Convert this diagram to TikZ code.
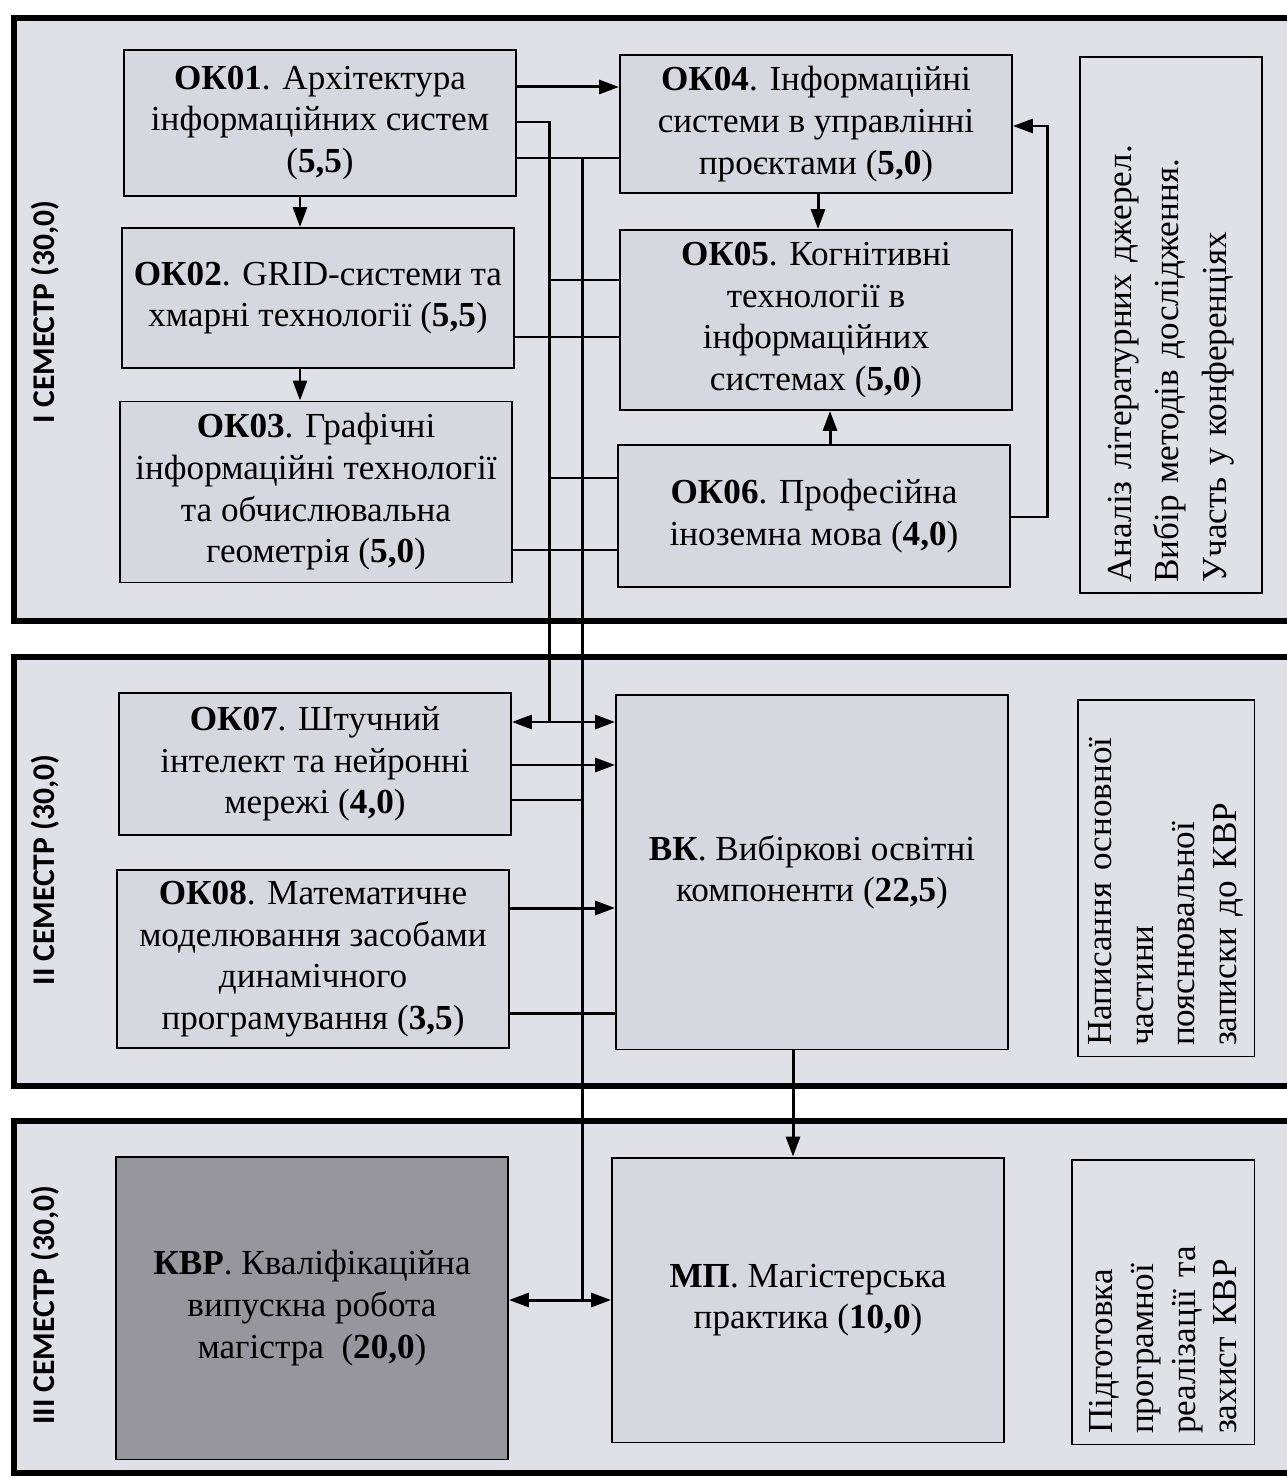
\documentclass[tikz,border=0pt]{standalone}
\usepackage{fontspec}
\setmainfont{Liberation Serif}
\newfontfamily\semfont{Carlito}
\usetikzlibrary{arrows.meta}
\definecolor{panelgray}{RGB}{224,225,231}
\definecolor{boxgray}{RGB}{214,216,223}
\definecolor{kvrgray}{RGB}{150,150,156}

\begin{document}
\begin{tikzpicture}[x=0.02cm, y=-0.02cm,
    panel/.style={line width=3pt, fill=panelgray},
    course/.style={draw, line width=1.1pt, fill=boxgray, align=center, inner ysep=1pt,
      minimum width=7.84cm, font=\fontsize{20}{23.7}\selectfont},
    note/.style={draw, line width=1.1pt, fill=panelgray, rotate=90, align=left,
      inner xsep=0.2cm, font=\fontsize{20}{23.7}\selectfont},
    semlabel/.style={rotate=90, font=\semfont\bfseries\fontsize{18}{20}\selectfont},
    link/.style={line width=1.7pt},
    arr/.style={link, -{Triangle[length=4mm,width=2.8mm]}},
    dbl/.style={link, {Triangle[length=4mm,width=2.8mm]}-{Triangle[length=4mm,width=2.8mm]}}]
  \useasboundingbox (0,0) rectangle (1286,1479);
  % semester panels
  \draw[panel] (14,18) rectangle (1300,621);
  \draw[panel] (14,657) rectangle (1300,1086);
  \draw[panel] (14,1121) rectangle (1300,1473);
  \node[semlabel] (sem1) at (45,312) {I СЕМЕСТР (30,0)};
  \node[semlabel] (sem2) at (45,870) {II СЕМЕСТР (30,0)};
  \node[semlabel] (sem3) at (45,1305) {III СЕМЕСТР (30,0)};

  % semester I
  \node[course, minimum height=2.92cm] (ok01) at (320,123)
    {\textbf{ОК01}. Архітектура\\інформаційних систем\\(\textbf{5,5})};
  \node[course, minimum height=2.8cm] (ok02) at (318,298)
    {\textbf{ОК02}. GRID-системи та\\хмарні технології (\textbf{5,5})};
  \node[course, minimum height=3.62cm] (ok03) at (316,492)
    {\textbf{ОК03}. Графічні\\інформаційні технології\\та обчислювальна\\геометрія (\textbf{5,0})};
  \node[course, minimum height=2.76cm] (ok04) at (816,124)
    {\textbf{ОК04}. Інформаційні\\системи в управлінні\\проєктами (\textbf{5,0})};
  \node[course, minimum height=3.6cm] (ok05) at (816,320)
    {\textbf{ОК05}. Когнітивні\\технології в\\інформаційних\\системах (\textbf{5,0})};
  \node[course, minimum height=2.84cm] (ok06) at (814,516)
    {\textbf{ОК06}. Професійна\\іноземна мова (\textbf{4,0})};
  \node[note, minimum width=10.72cm, minimum height=3.64cm, text width=10.3cm,
    font=\fontsize{20}{27}\selectfont] (note1) at (1171,325)
    {Аналіз літературних джерел.\\Вибір методів дослідження.\\Участь у конференціях};

  % semester II
  \node[course, minimum height=2.84cm] (ok07) at (315,764)
    {\textbf{ОК07}. Штучний\\інтелект та нейронні\\мережі (\textbf{4,0})};
  \node[course, minimum height=3.56cm] (ok08) at (313,959)
    {\textbf{ОК08}. Математичне\\моделювання засобами\\динамічного\\програмування (\textbf{3,5})};
  \node[course, minimum height=7.1cm] (vk) at (812,872)
    {\textbf{ВК}. Вибіркові освітні\\компоненти (\textbf{22,5})};
  \node[note, minimum width=7.14cm, minimum height=3.54cm, text width=6.72cm] (note2) at (1166,878)
    {Написання основної\\частини\\пояснювальної\\записки до КВР};

  % semester III
  \node[course, fill=kvrgray, minimum height=6.06cm] (kvr) at (312,1308)
    {\textbf{КВР}. Кваліфікаційна\\випускна робота\\магістра~ (\textbf{20,0})};
  \node[course, minimum height=5.7cm] (mp) at (808,1300)
    {\textbf{МП}. Магістерська\\практика (\textbf{10,0})};
  \node[note, minimum width=5.7cm, minimum height=3.66cm, text width=5.28cm] (note3) at (1163,1302)
    {Підготовка\\програмної\\реалізації та\\захист КВР};

  % links
  \coordinate (busA) at (549,722);
  \coordinate (busB) at (582,1300);
  \draw[arr] (ok01.east |- 0,87) -- (ok04.west |- 0,87);
  \draw[link] (ok01.east |- 0,122) -| (busA);
  \draw[dbl] (ok07.east |- busA) -- (vk.west |- busA);
  \draw[link] (ok01.east |- 0,158) -- (ok04.west |- 0,158);
  \draw[link] (busB |- 0,158) -- (busB);
  \draw[dbl] (kvr.east |- busB) -- (mp.west |- busB);
  \draw[link] (busA |- 0,280) -- (ok05.west |- 0,280);
  \draw[link] (ok02.east |- 0,337) -- (ok05.west |- 0,337);
  \draw[link] (busA |- 0,478) -- (ok06.west |- 0,478);
  \draw[link] (ok03.east |- 0,550) -- (ok06.west |- 0,550);
  \draw[arr] (ok07.east |- 0,765) -- (vk.west |- 0,765);
  \draw[link] (ok07.east |- 0,800) -- (busB |- 0,800);
  \draw[arr] (ok08.east |- 0,908) -- (vk.west |- 0,908);
  \draw[link] (ok08.east |- 0,1013) -- (vk.west |- 0,1013);
  \draw[arr] (ok01.south -| 300,0) -- (ok02.north -| 300,0);
  \draw[arr] (ok02.south -| 300,0) -- (ok03.north -| 300,0);
  \draw[arr] (ok04.south -| 818,0) -- (ok05.north -| 818,0);
  \draw[arr] (ok06.north -| 830,0) -- (ok05.south -| 830,0);
  \draw[arr] (vk.south -| 793,0) -- (mp.north -| 793,0);
  \draw[arr] (ok06.east |- 0,517) -| (1047,126) -- (ok04.east |- 0,126);
\end{tikzpicture}
\end{document}
